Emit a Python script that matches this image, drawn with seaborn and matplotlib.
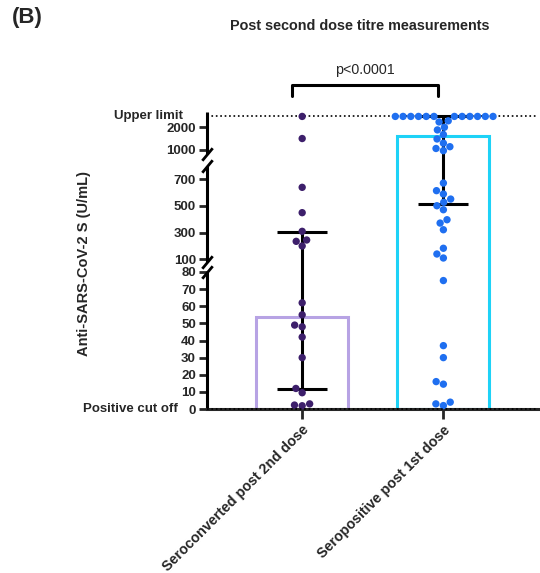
import numpy as np
import pandas as pd
import seaborn as sns
import matplotlib.pyplot as plt

groups = ['Seroconverted post 2nd dose', 'Seropositive post 1st dose']

# titres (U/mL)
seroconverted = [2500, 1500, 640, 450, 310, 245, 235, 200,
                 62, 55, 49, 48, 42, 30, 12, 9.5, 3, 2.3, 1.9]
seropositive = [2500, 2500, 2500, 2500, 2500, 2500,
                2500, 2500, 2500, 2500, 2500, 2500,
                2300, 2250, 2010, 1890, 1680, 1480, 1290, 1130, 1050, 950,
                672, 615, 590, 552, 528, 502, 472, 397, 372, 322, 183, 140, 110,
                75, 37, 30, 16, 14.5, 4, 3, 2]

bar_means = [54, 1600]
err_low = [11.7, 515]
err_high = [305, 2500]

ytick_values = [0, 10, 20, 30, 40, 50, 60, 70, 80, 100, 300, 500, 700, 1000, 2000]
upper_limit = 2500
cut_off = 0

bar_colors = ['#b7a3e4', '#1ed2f7']
dot_colors = ['#3d1f6b', '#1f6ff0']

# broken y axis: (value lo, value hi, axis lo, axis hi)
segments = [(0, 80, 0, 137), (80, 800, 147, 243), (800, 2700, 255, 297)]


def to_axis(v):
    v = np.asarray(v, dtype=float)
    out = np.zeros_like(v)
    for lo, hi, d0, d1 in segments[::-1]:
        m = (v >= lo) & (v <= hi)
        out[m] = d0 + (v[m] - lo) / (hi - lo) * (d1 - d0)
    return out


df = pd.DataFrame({
    'group': [groups[0]] * len(seroconverted) + [groups[1]] * len(seropositive),
    'titre': seroconverted + seropositive,
})
df['d'] = to_axis(df['titre'])

sns.set_style('ticks')
plt.rcParams['font.family'] = ['Liberation Sans', 'DejaVu Sans']

fig = plt.figure(figsize=(5.4, 5.73), dpi=100)
ax = fig.add_axes([207 / 540, 1 - 409 / 573, 331 / 540, 297 / 573])
ax.set_xlim(-0.674, 1.67)
ax.set_ylim(0, 297)

sns.barplot(x=groups, y=to_axis(bar_means), hue=groups, palette=bar_colors,
            fill=False, width=0.65, linewidth=2.2, errorbar=None,
            legend=False, ax=ax, zorder=1)

lo = to_axis(err_low)
hi = to_axis(err_high)
ax.errorbar([0, 1], lo, yerr=[np.zeros(2), hi - lo], fmt='none',
            ecolor='black', elinewidth=2.2, capsize=18, capthick=2.2, zorder=2)

ax.axhline(to_axis(upper_limit), color='black', ls=':', lw=1.2, zorder=0.5)
ax.axhline(to_axis(cut_off), color='black', ls=':', lw=1.2, zorder=4,
           clip_on=False)

sns.swarmplot(data=df, x='group', y='d', hue='group', order=groups,
              palette=dot_colors, size=5.3, legend=False, ax=ax,
              zorder=3, clip_on=False)

ax.set_xlim(-0.674, 1.67)
ax.set_ylim(0, 297)

# left spine drawn in pieces with break marks
ax.spines['left'].set_visible(False)
ax.spines['right'].set_visible(False)
ax.spines['top'].set_visible(False)
ax.spines['bottom'].set_linewidth(2.2)
ytr = ax.get_yaxis_transform()
for lo_v, hi_v, d0, d1 in segments:
    ax.plot([0, 0], [d0, d1], color='black', lw=2.2, transform=ytr,
            clip_on=False, solid_capstyle='butt')
for d0, d1 in [(segments[0][3], segments[1][2]), (segments[1][3], segments[2][2])]:
    ax.plot([0, 0], [d0, d1], ls='none', marker=[(-1, -1.2), (1, 1.2)],
            markersize=9, mew=2, color='black', transform=ytr, clip_on=False)

ax.set_yticks(to_axis(ytick_values))
ax.set_yticklabels([str(v) for v in ytick_values], fontweight='bold')
ax.tick_params(axis='y', length=6, width=2, pad=2, labelsize=9.5)
ax.tick_params(axis='x', length=7, width=2, pad=3, labelsize=10.3)
ax.set_xticks([0, 1])
ax.set_xticklabels(groups, rotation=45, ha='right', va='top',
                   rotation_mode='anchor', fontweight='bold')
ax.set_xlabel('')

ax.set_ylabel('Anti-SARS-CoV-2 S (U/mL)', fontweight='bold', fontsize=10.5)
ax.yaxis.set_label_coords(-0.35, 0.49)

ax.annotate('Upper limit', xy=(0, to_axis(upper_limit)), xycoords=ytr,
            xytext=(-17, 0), textcoords='offset points', ha='right',
            va='center', fontweight='bold', fontsize=9.5)
ax.annotate('Positive cut off', xy=(0, to_axis(cut_off)), xycoords=ytr,
            xytext=(-21, 0), textcoords='offset points', ha='right',
            va='center', fontweight='bold', fontsize=9.5)

# significance bracket
ax.plot([-0.07, -0.07, 0.96, 0.96], [313, 324, 324, 313], color='black',
        lw=2.2, clip_on=False)
ax.text(0.445, 339, 'p<0.0001', ha='center', va='center', fontsize=10.3)

fig.text(360 / 540, 1 - 26 / 573, 'Post second dose titre measurements',
         ha='center', va='center', fontweight='bold', fontsize=10.4)
fig.text(12 / 540, 1 - 18 / 573, '(B)', ha='left', va='center',
         fontweight='bold', fontsize=16)

fig.savefig('out.png', dpi=100)
